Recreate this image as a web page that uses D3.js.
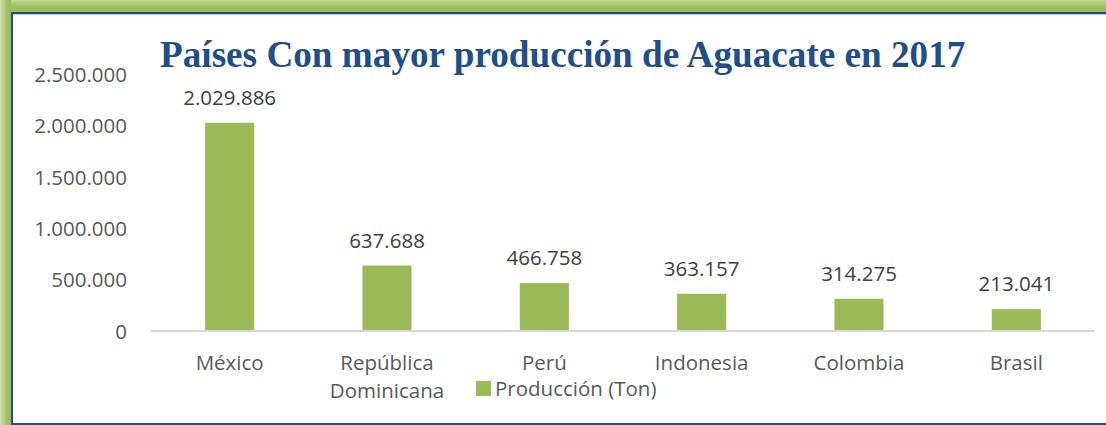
<!DOCTYPE html>
<html>
<head>
<meta charset="utf-8">
<script src="https://cdn.jsdelivr.net/npm/d3@7"></script>
<style>
  body { margin: 0; background: #fff; }
  svg { display: block; }
</style>
</head>
<body>
<div id="chart"></div>
<script>
// Data
var countries = ['México', 'República Dominicana', 'Perú', 'Indonesia', 'Colombia', 'Brasil'];
var production = [2029886, 637688, 466758, 363157, 314275, 213041];
var yTicks = [0, 500000, 1000000, 1500000, 2000000, 2500000];
var title = 'Países Con mayor producción de Aguacate en 2017';
var seriesName = 'Producción (Ton)';

var w = 1106;
var h = 425;
var margin = { top: 74.5, right: 11, bottom: 94, left: 151 };

var svg = d3.select('#chart')
  .append('svg')
  .attr('width', w)
  .attr('height', h);

// Frame gradients
var defs = svg.append('defs');
var gl = defs.append('linearGradient').attr('id', 'gLeft')
  .attr('x1', 0).attr('x2', 1).attr('y1', 0).attr('y2', 0);
gl.append('stop').attr('offset', '0%').attr('stop-color', '#d4e3b6');
gl.append('stop').attr('offset', '60%').attr('stop-color', '#a4c266');
gl.append('stop').attr('offset', '100%').attr('stop-color', '#9bbb59');
var gt = defs.append('linearGradient').attr('id', 'gTop')
  .attr('x1', 0).attr('x2', 0).attr('y1', 0).attr('y2', 1);
gt.append('stop').attr('offset', '0%').attr('stop-color', '#c4d89c');
gt.append('stop').attr('offset', '50%').attr('stop-color', '#a2c063');
gt.append('stop').attr('offset', '100%').attr('stop-color', '#9bbb59');

svg.append('rect').attr('x', 0).attr('y', 0).attr('width', w).attr('height', 12)
  .attr('fill', 'url(#gTop)');
svg.append('rect').attr('x', 0).attr('y', 0).attr('width', 11).attr('height', h)
  .attr('fill', 'url(#gLeft)');

// Inner panel border
svg.append('rect')
  .attr('x', 12).attr('y', 13)
  .attr('width', w - 12 + 5).attr('height', h - 14)
  .attr('fill', '#fff')
  .attr('stroke', '#1f4e89')
  .attr('stroke-width', 2);
svg.append('line')
  .attr('x1', 13).attr('x2', w).attr('y1', 14.5).attr('y2', 14.5)
  .attr('stroke', '#b7cbe6').attr('stroke-width', 1);

// Scales
var x = d3.scaleBand()
  .domain(countries)
  .range([margin.left, 1095])
  .paddingInner(0.688)
  .paddingOuter(0.344);

var y = d3.scaleLinear()
  .domain([0, 2500000])
  .range([331, margin.top]);

var fmt = function (v) {
  return d3.format(',')(v).replace(/,/g, '.');
};

var textFont = '"Open Sans", sans-serif';
var textSize = 20.5;

// Y axis (no line, labels only)
var yAxis = d3.axisLeft(y)
  .tickValues(yTicks)
  .tickSize(0)
  .tickPadding(0)
  .tickFormat(fmt);

var yAxisGroup = svg.append('g')
  .attr('transform', 'translate(127, 0)')
  .call(yAxis);
yAxisGroup.select('.domain').remove();
yAxisGroup.selectAll('text')
  .attr('font-family', textFont)
  .attr('font-size', textSize)
  .attr('fill', '#595959')
  .attr('dy', '0.35em');

// Baseline
svg.append('line')
  .attr('x1', margin.left).attr('x2', 1095)
  .attr('y1', y(0)).attr('y2', y(0))
  .attr('stroke', '#d9d9d9')
  .attr('stroke-width', 2);

// Bars
svg.selectAll('rect.bar')
  .data(production)
  .enter()
  .append('rect')
  .attr('class', 'bar')
  .attr('x', (d, i) => x(countries[i]))
  .attr('y', d => y(d))
  .attr('width', x.bandwidth())
  .attr('height', d => y(0) - y(d) - 1)
  .attr('fill', '#9bbb59');

// Value labels
svg.selectAll('text.value')
  .data(production)
  .enter()
  .append('text')
  .attr('class', 'value')
  .attr('x', (d, i) => x(countries[i]) + x.bandwidth() / 2)
  .attr('y', d => y(d) - 18)
  .attr('text-anchor', 'middle')
  .attr('font-family', textFont)
  .attr('font-size', textSize)
  .attr('fill', '#404040')
  .text(fmt);

// Category labels
var catLines = countries.map(c => c === 'República Dominicana' ? ['República', 'Dominicana'] : [c]);
var cats = svg.selectAll('text.cat')
  .data(countries)
  .enter()
  .append('text')
  .attr('class', 'cat')
  .attr('text-anchor', 'middle')
  .attr('font-family', textFont)
  .attr('font-size', textSize)
  .attr('fill', '#595959');
cats.each(function (c, i) {
  var t = d3.select(this);
  catLines[i].forEach((line, j) => {
    t.append('tspan')
      .attr('x', x(c) + x.bandwidth() / 2)
      .attr('y', 370 + j * 28)
      .text(line);
  });
});

// Legend
svg.append('rect')
  .attr('x', 476).attr('y', 381)
  .attr('width', 15).attr('height', 15)
  .attr('fill', '#9bbb59');
svg.append('text')
  .attr('x', 495).attr('y', 396)
  .attr('font-family', textFont)
  .attr('font-size', textSize)
  .attr('fill', '#595959')
  .text(seriesName);

// Title
svg.append('text')
  .attr('x', 160).attr('y', 67)
  .attr('font-family', '"Times New Roman", "Liberation Serif", serif')
  .attr('font-weight', 'bold')
  .attr('font-size', 37.2)
  .attr('fill', '#1f4e89')
  .text(title);
</script>
</body>
</html>
